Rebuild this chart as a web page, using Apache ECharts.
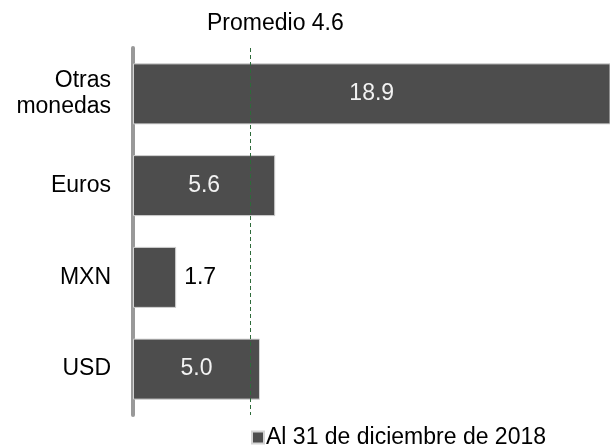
<!DOCTYPE html>
<html>
<head>
<meta charset="utf-8">
<script src="https://cdn.jsdelivr.net/npm/echarts@6/dist/echarts.min.js"></script>
<style>
  html, body { margin: 0; padding: 0; background: #fff; }
  #chart { width: 610px; height: 447px; }
</style>
</head>
<body>
<div id="chart"></div>
<script>
// Currency categories, top to bottom
const categories = ['Otras\nmonedas', 'Euros', 'MXN', 'USD'];
// Values per currency
const values = [18.9, 5.6, 1.7, 5.0];
// Average across currencies
const promedio = 4.6;
const seriesName = 'Al 31 de diciembre de 2018';

const FONT = '"Liberation Sans", Arial, sans-serif';
const FS = 23;

const chart = echarts.init(document.getElementById('chart'), null, { renderer: 'canvas' });

const barData = values.map(function (v) {
  const outside = v < 3;
  return {
    value: v,
    label: outside
      ? { position: 'right', distance: 8, color: '#000' }
      : { position: 'inside', color: '#f2f2f2' }
  };
});

chart.setOption({
  animation: false,
  backgroundColor: '#ffffff',
  textStyle: { fontFamily: FONT },
  graphic: [{
    type: 'text',
    left: 207,
    top: 12,
    style: {
      text: 'Promedio ' + promedio.toFixed(1),
      font: FS + 'px ' + FONT,
      fill: '#000'
    }
  }],
  legend: {
    data: [seriesName],
    left: 246,
    top: 421,
    icon: 'rect',
    itemWidth: 12,
    itemHeight: 12,
    itemGap: 4,
    textStyle: { fontSize: FS, color: '#000', fontFamily: FONT, padding: [0, 0, 0, -3] }
  },
  grid: { left: 133, right: 0, top: 48, bottom: 32, containLabel: false },
  xAxis: {
    type: 'value',
    min: 0,
    max: 18.78,
    show: false
  },
  yAxis: {
    type: 'category',
    data: categories,
    inverse: true,
    offset: 3,
    axisLine: { show: true, lineStyle: { color: '#999999', width: 4 } },
    axisTick: { show: false },
    axisLabel: {
      margin: 19,
      fontSize: FS,
      lineHeight: 26,
      color: '#000',
      fontFamily: FONT,
      align: 'right'
    },
    splitLine: { show: false }
  },
  series: [{
    name: seriesName,
    type: 'bar',
    data: barData,
    barCategoryGap: '33.5%',
    clip: true,
    itemStyle: { color: '#4d4d4d', borderColor: '#d4d4d4', borderWidth: 1 },
    label: {
      show: true,
      fontSize: FS,
      fontFamily: FONT,
      formatter: function (p) { return p.value.toFixed(1); }
    },
    markLine: {
      silent: true,
      symbol: 'none',
      label: { show: false },
      lineStyle: { color: '#2e6b3a', width: 1, type: [4, 3] },
      data: [{ xAxis: promedio }]
    }
  }]
});
</script>
</body>
</html>
